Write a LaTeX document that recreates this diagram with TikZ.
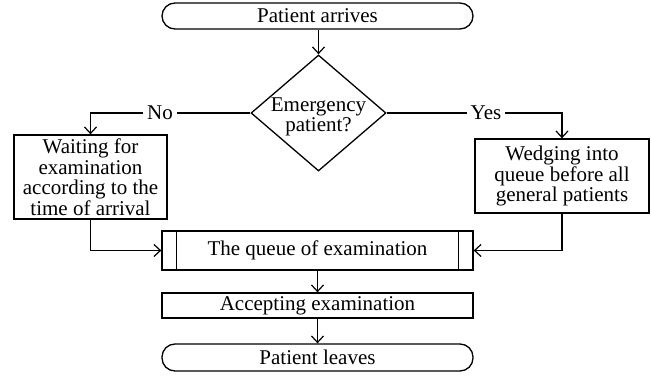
\documentclass[tikz,border=0pt]{standalone}
\usepackage{fontspec}
\setmainfont{Liberation Serif}
\usetikzlibrary{arrows.meta,shapes.geometric}
\begin{document}
\begin{tikzpicture}[x=1pt,y=-1pt,
  every node/.style={font=\fontsize{21}{20.5}\selectfont, align=center},
  box/.style={draw, line width=1.3pt, rectangle, inner sep=0pt},
  term/.style={box, rounded corners=13pt},
  lbl/.style={inner sep=3.5pt},
  line/.style={line width=1.2pt},
  arr/.style={line, -{Straight Barb[length=6.5pt,width=12pt,line width=1.2pt]}}]
\useasboundingbox (0,0) rectangle (651,377);
\node[term, minimum width=311pt, minimum height=26pt] (start) at (317.5,16) {Patient arrives};
\node[draw, line width=1.3pt, diamond, minimum width=135pt, minimum height=116pt, inner sep=0pt] (dec) at (318.5,113) {};
\node (dectext) at (318.5,117) {Emergency\\patient?};
\node[box, minimum width=153pt, minimum height=84pt] (left) at (90.5,177) {Waiting for\\examination\\according to the\\time of arrival};
\node[box, minimum width=174pt, minimum height=74pt] (right) at (562,176) {Wedging into\\queue before all\\general patients};
\node[box, minimum width=311pt, minimum height=39pt] (queue) at (317.5,250.5) {The queue of examination};
\draw[line width=1.3pt] ([xshift=15pt]queue.north west) -- ([xshift=15pt]queue.south west);
\draw[line width=1.3pt] ([xshift=-15pt]queue.north east) -- ([xshift=-15pt]queue.south east);
\node[box, minimum width=311pt, minimum height=25pt] (accept) at (317.5,305.5) {Accepting examination};
\node[term, minimum width=311pt, minimum height=27pt] (leave) at (317.5,357.5) {Patient leaves};
\node[lbl] (no) at (160,113) {No};
\node[lbl] (yes) at (486,113) {Yes};
\draw[arr] (start.south -| dec.north) -- (dec.north);
\draw[line] (dec.west) -- (no.east);
\draw[arr] (no.west) -| (left.north);
\draw[line] (dec.east) -- (yes.west);
\draw[arr] (yes.east) -| (right.north);
\draw[arr] (left.south) |- (queue.west);
\draw[arr] (right.south) |- (queue.east);
\draw[arr] (queue.south) -- (accept.north);
\draw[arr] (accept.south) -- (leave.north);
\end{tikzpicture}
\end{document}
